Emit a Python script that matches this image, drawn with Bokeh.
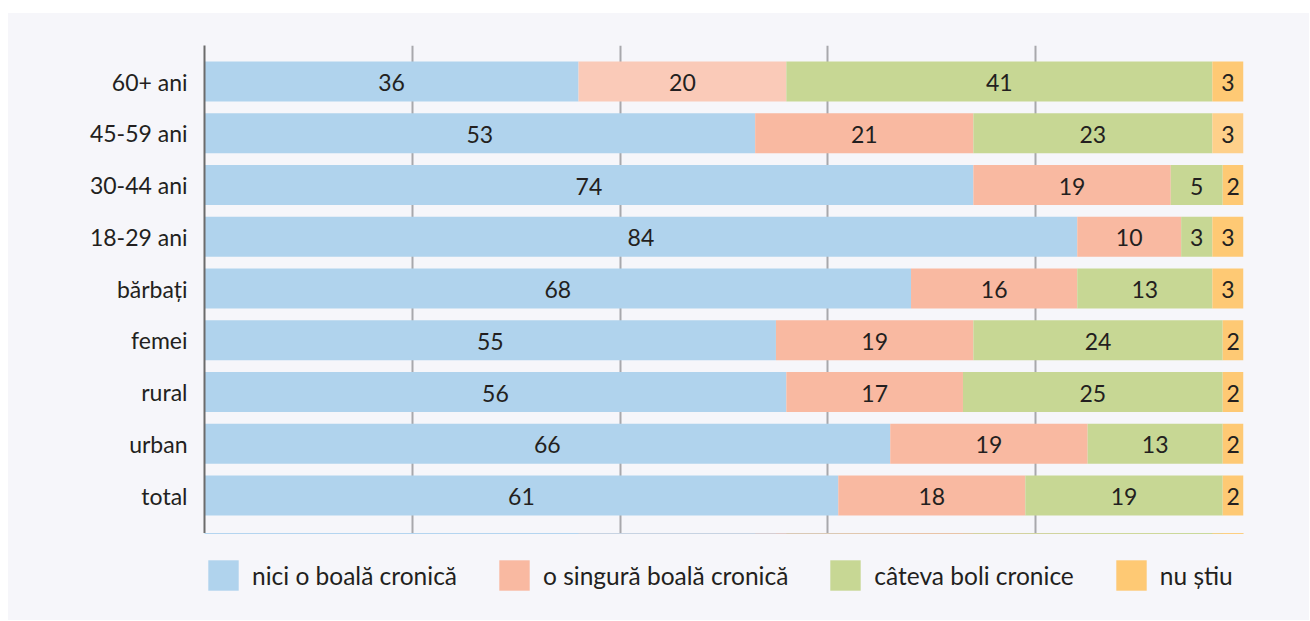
from bokeh.plotting import figure
from bokeh.models import ColumnDataSource, Legend, LegendItem, FixedTicker, Spacer
from bokeh.layouts import column, row
from bokeh.core.properties import value
from bokeh.embed import file_html
from bokeh.resources import INLINE

# ---- data (bottom to top) ----
categories = ["total", "urban", "rural", "femei", "bărbați",
              "18-29 ani", "30-44 ani", "45-59 ani", "60+ ani"]
nici = [61, 66, 56, 55, 68, 84, 74, 53, 36]
singura = [18, 19, 17, 19, 16, 10, 19, 21, 20]
cateva = [19, 13, 25, 24, 13, 3, 5, 23, 41]
nu_stiu = [2, 2, 2, 2, 3, 3, 2, 3, 3]
series_names = ["nici o boală cronică", "o singură boală cronică",
                "câteva boli cronice", "nu știu"]
x_ticks = [0, 20, 40, 60, 80, 100]

# ---- styles ----
base_colors = ["#b0d3ed", "#f9b9a1", "#c7d794", "#fec974"]
FONT = "Lato"
BG = "#f6f6fa"
TXT = "#231f20"

series = [nici, singura, cateva, nu_stiu]
n = len(categories)
ypos = list(range(n))

p = figure(width=1301, height=520, x_range=(0, 100), y_range=(-0.734, 8.696),
           output_backend="svg", toolbar_location=None,
           background_fill_color=BG, border_fill_color=BG,
           min_border_left=196, min_border_right=66, min_border_top=32,
           min_border_bottom=0, outline_line_color=None)

sources = []
left = [0] * n
for k, vals in enumerate(series):
    right = [l + v for l, v in zip(left, vals)]
    colors = [base_colors[k]] * n
    if k == 1:
        colors[n - 1] = "#facab8"
    if k == 3:
        colors[n - 2] = "#fed08a"
    src = ColumnDataSource(dict(
        y=ypos, left=left, right=right, color=colors,
        mid=[(a + b) / 2 for a, b in zip(left, right)],
        label=[str(v) for v in vals]))
    sources.append(src)
    p.hbar(y="y", left="left", right="right", height=0.773,
           fill_color="color", line_color=None, source=src)
    p.text(x="mid", y="y", text="label", source=src,
           text_align="center", text_baseline="middle",
           text_font=value(FONT), text_font_size="23px", text_color=TXT,
           y_offset=1)
    left = right

# axes / grid
p.xaxis.visible = False
p.xgrid.ticker = FixedTicker(ticks=x_ticks)
p.xgrid.grid_line_color = "#a8a8ac"
p.xgrid.grid_line_width = 2
p.ygrid.visible = False

p.yaxis.ticker = FixedTicker(ticks=ypos)
p.yaxis.major_label_overrides = {i: c for i, c in enumerate(categories)}
p.yaxis.axis_line_color = "#6b6b6b"
p.yaxis.axis_line_width = 2
p.yaxis.major_tick_line_color = None
p.yaxis.minor_tick_line_color = None
p.yaxis.major_label_text_font = FONT
p.yaxis.major_label_text_font_size = "23px"
p.yaxis.major_label_text_color = TXT
p.yaxis.major_label_standoff = 11

# ---- legend figure (its bars lie outside its visible range) ----
lg = figure(width=1301, height=87, x_range=(0, 100), y_range=(-10, -9),
            output_backend="svg", toolbar_location=None,
            background_fill_color=BG, border_fill_color=BG,
            min_border_left=196, min_border_right=66, min_border_top=0,
            min_border_bottom=0, outline_line_color=None)
lg.axis.visible = False
lg.grid.visible = False
items = []
for name, src in zip(series_names, sources):
    r = lg.hbar(y="y", left="left", right="right", height=0.773,
                fill_color="color", line_color=None, source=src)
    items.append(LegendItem(label=name, renderers=[r]))
legend = Legend(items=items, orientation="horizontal", location=(0, 26),
                glyph_width=38, glyph_height=38, label_standoff=10, spacing=38,
                label_text_font=FONT, label_text_font_size="24.5px",
                label_text_color=TXT, border_line_color=None,
                background_fill_alpha=0, padding=0, margin=0,
                label_height=38)
lg.add_layout(legend, "center")

panel = column(p, lg, spacing=0, styles={"background-color": BG})
layout = row(Spacer(width=8, height=10),
             column(Spacer(height=13, width=10), panel, spacing=0),
             spacing=0)
open("out.html", "w").write(file_html(layout, INLINE))
